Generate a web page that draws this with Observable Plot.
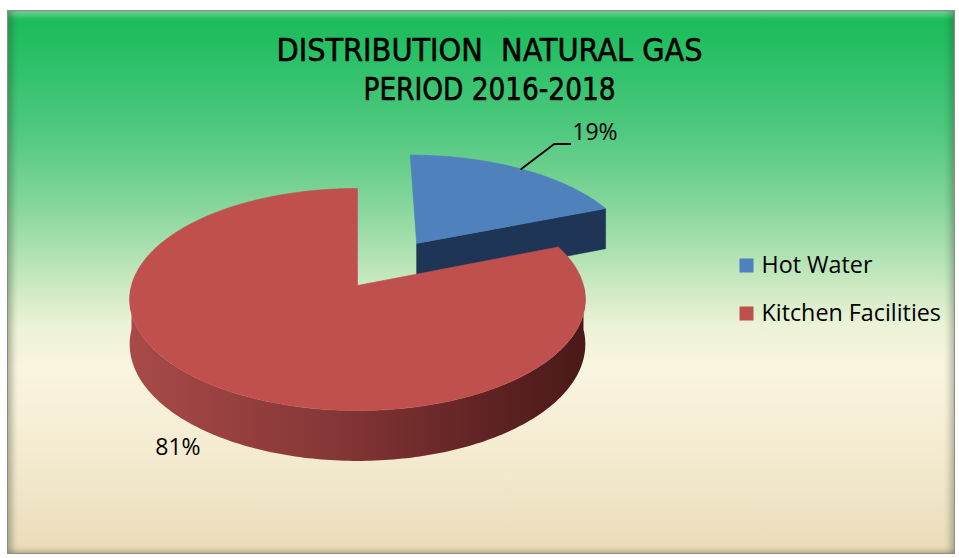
<!DOCTYPE html>
<html>
<head>
<meta charset="utf-8">
<script src="https://cdn.jsdelivr.net/npm/d3@7"></script>
<script src="https://cdn.jsdelivr.net/npm/@observablehq/plot@0.6"></script>
<style>
  html, body { margin: 0; padding: 0; background: #ffffff; }
  #chart { position: relative; width: 959px; height: 558px; background: #ffffff; overflow: hidden; }
  #panel {
    position: absolute; left: 7px; top: 10px; width: 946px; height: 542px;
    border: 1px solid #8c8c8c;
    background: linear-gradient(to bottom,
      #17bb58 0%, #2ec16a 10%, #4fc87f 22%, #86d69b 36%, #bfe6bb 48%,
      #ecf3d6 58%, #faf5df 66%, #f5ecd2 80%, #eadcb9 100%);
    box-shadow:
      inset 7px 0 6px -3px rgba(40,60,40,0.35),
      inset -7px 0 6px -3px rgba(40,60,40,0.30),
      inset 0 8px 6px -4px rgba(255,255,255,0.45),
      inset 0 -6px 5px -3px rgba(120,100,60,0.25);
  }
  #plot { position: absolute; left: 0; top: 0; }
</style>
</head>
<body>
<div id="chart">
  <div id="panel"></div>
  <div id="plot"></div>
</div>
<script>
// ---- data ----
const categories = ["Hot Water", "Kitchen Facilities"];
const shares = [19, 81];
const pctLabels = ["19%", "81%"];
const titleLines = ["DISTRIBUTION  NATURAL GAS", "PERIOD 2016-2018"];

// ---- styles / layout ----
const topColors = ["#4f81bd", "#c0504d"];
const cutColors = ["#1f3556", "#5a1f1f"];
const explode = [0.489, 0];
const titleWidths = [426, 252];
const CX = 357, CY = 285, RX = 226, RY = 109.3, K = 0.126, DEPTH = 44;

function proj(X, Z, H) {
  const s = 1 / (1 + K * Z);
  return {x: CX + RX * X * s, y: CY - RY * Z * s - H * s};
}
const rad = d => d * Math.PI / 180;

const total = d3.sum(shares);
let acc = 0;
const slices = shares.map((v, i) => {
  const a0 = acc / total * 360;
  acc += v;
  const a1 = acc / total * 360;
  const mid = (a0 + a1) / 2;
  const ox = explode[i] * Math.sin(rad(mid));
  const oz = explode[i] * Math.cos(rad(mid));
  return {i, a0, a1, mid, ox, oz};
});

function pt(s, th, r, H) {
  return proj(s.ox + r * Math.sin(rad(th)), s.oz + r * Math.cos(rad(th)), H);
}
function arc(s, t0, t1, H) {
  const n = Math.max(2, Math.ceil(Math.abs(t1 - t0)));
  return d3.range(n + 1).map(k => pt(s, t0 + (t1 - t0) * k / n, 1, H));
}

const marks = [];
const defsNeeded = [];
slices.forEach(s => {
  [[s.a0, -1], [s.a1, 1]].forEach(([th, sign]) => {
    const nz = -sign * Math.sin(rad(th));
    if (nz < -0.01) {
      const face = [pt(s, th, 0, 0), pt(s, th, 1, 0), pt(s, th, 1, -DEPTH), pt(s, th, 0, -DEPTH)];
      face.push(face[0]);
      marks.push(Plot.line(face, {x: "x", y: "y", fill: cutColors[s.i], stroke: cutColors[s.i], strokeWidth: 0.5}));
    }
  });
  const f0 = Math.max(s.a0, 90), f1 = Math.min(s.a1, 270);
  if (f1 > f0) {
    const side = arc(s, f0, f1, 0).concat(arc(s, f1, f0, -DEPTH));
    side.push(side[0]);
    marks.push(Plot.line(side, {x: "x", y: "y", fill: `url(#side${s.i})`, stroke: "none"}));
    defsNeeded.push(s.i);
  }
  const top = [pt(s, 0, 0, 0)].concat(arc(s, s.a0, s.a1, 0));
  top.push(top[0]);
  marks.push(Plot.line(top, {x: "x", y: "y", fill: topColors[s.i], stroke: topColors[s.i], strokeWidth: 0.6}));
});

// data labels
const font = "'Open Sans', 'Noto Sans', sans-serif";
const blue = slices[0];
const p0 = pt(blue, blue.mid, 1, 0);
const leader = [p0, {x: p0.x + 33, y: p0.y - 25}, {x: p0.x + 49, y: p0.y - 25}];
marks.push(Plot.line(leader, {x: "x", y: "y", stroke: "#000", strokeWidth: 1.8}));
const red = slices[1];
const p1 = pt(red, red.mid, 1.22, -0.7 * DEPTH);
const labelPts = [
  {text: pctLabels[0], x: p0.x + 51, y: p0.y - 36, anchor: "start"},
  {text: pctLabels[1], x: p1.x - 2, y: p1.y, anchor: "middle"}
];
labelPts.forEach(l => marks.push(Plot.text([l], {x: "x", y: "y", text: "text", textAnchor: l.anchor,
  fontSize: 23, fontFamily: font, fill: "#000"})));

// legend
const legendX = 746, legendY = 265, legendGap = 48;
marks.push(Plot.dot(categories, {x: () => legendX, y: (d, i) => legendY + i * legendGap,
  symbol: "square", r: 7.9, fill: (d, i) => topColors[i], stroke: "none"}));
marks.push(Plot.text(categories, {x: () => legendX + 15, y: (d, i) => legendY + i * legendGap,
  text: d => d, textAnchor: "start", fontSize: 23.3, fontFamily: font, fill: "#000"}));

// title
marks.push(Plot.text(titleLines, {x: () => 489, y: (d, i) => 50 + i * 39, text: d => d,
  textAnchor: "middle", fontSize: 32, fontWeight: 500,
  fontFamily: "'DejaVu Sans Condensed', 'Liberation Sans Narrow', sans-serif",
  fill: "#000", stroke: "#000", strokeWidth: 0.6, className: "title-text"}));

const chart = Plot.plot({
  width: 959, height: 558, margin: 0,
  x: {type: "identity", axis: null},
  y: {type: "identity", axis: null},
  style: {background: "transparent", overflow: "visible"},
  marks
});

const defs = document.createElementNS("http://www.w3.org/2000/svg", "defs");
defs.innerHTML = defsNeeded.map(i => i === 1 ?
  `<linearGradient id="side${i}" x1="0" x2="1" y1="0" y2="0">
     <stop offset="0" stop-color="#a84a49"/><stop offset="0.45" stop-color="#853636"/>
     <stop offset="0.8" stop-color="#5e2222"/><stop offset="1" stop-color="#4a1919"/></linearGradient>` :
  `<linearGradient id="side${i}" x1="0" x2="1"><stop offset="0" stop-color="#2a4670"/><stop offset="1" stop-color="#17283f"/></linearGradient>`
).join("");
chart.insertBefore(defs, chart.firstChild);
chart.querySelectorAll(".title-text text").forEach((t, i) => {
  t.setAttribute("textLength", titleWidths[i]);
  t.setAttribute("lengthAdjust", "spacingAndGlyphs");
});
document.getElementById("plot").appendChild(chart);
</script>
</body>
</html>
